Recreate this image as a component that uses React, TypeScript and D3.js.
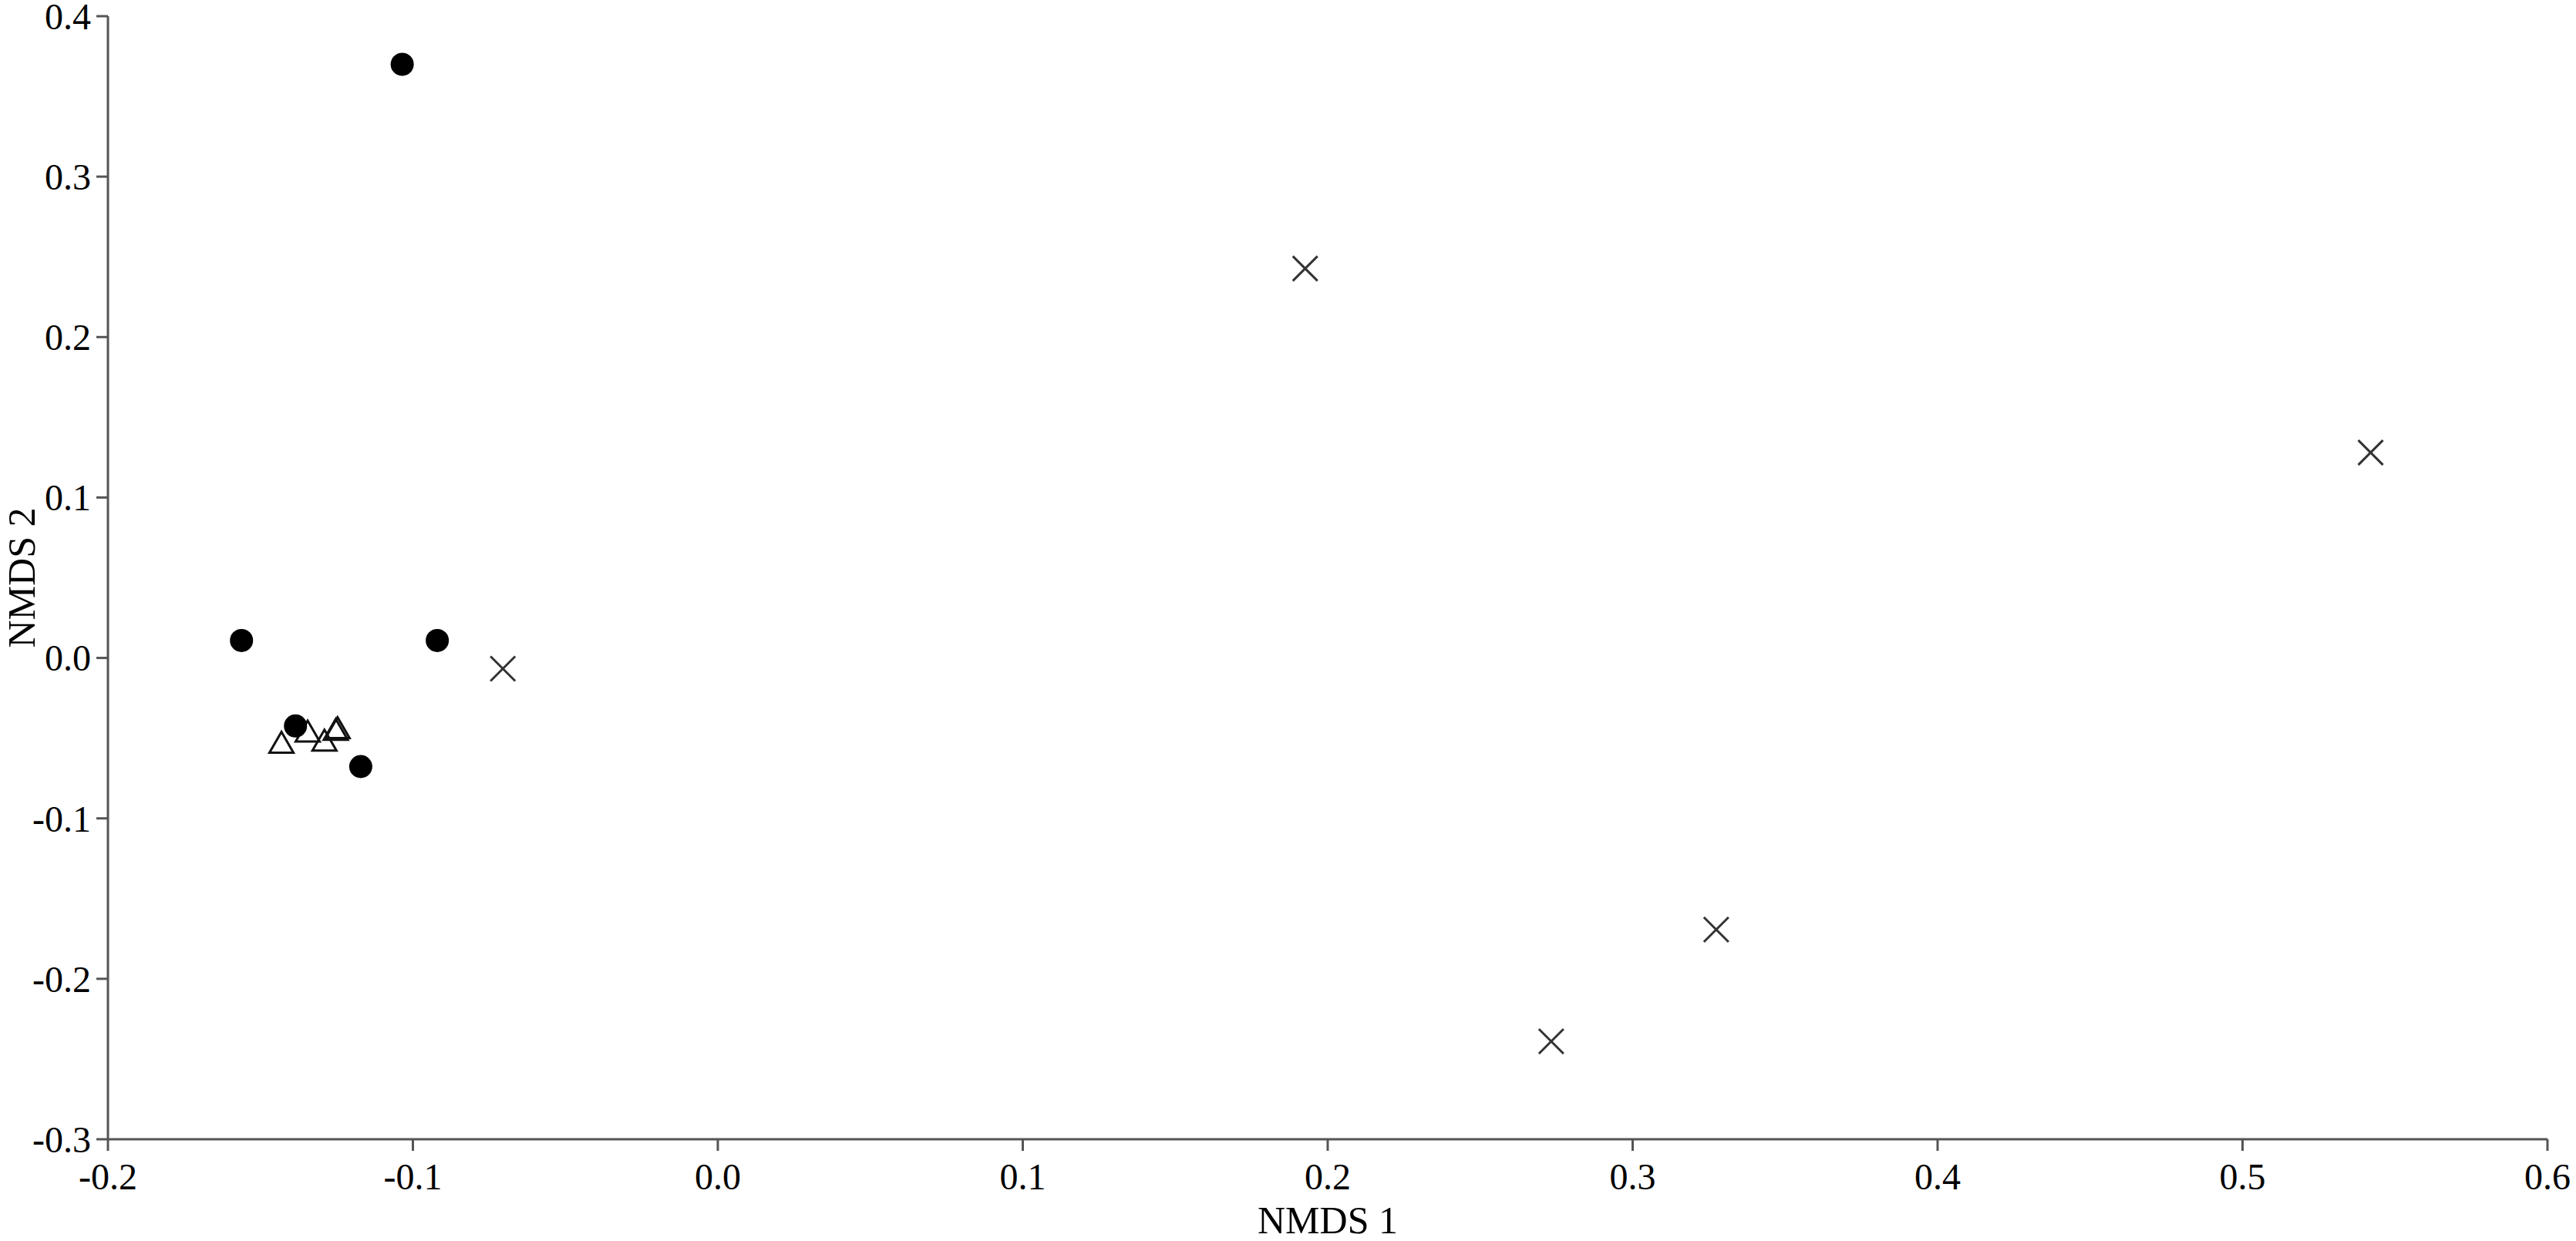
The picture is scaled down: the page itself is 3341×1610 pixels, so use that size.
import React from "react";
import * as d3 from "d3";

const W = 3341;
const H = 1610;

// Group 1: filled circles
const circleX = [-0.1035, -0.1562, -0.092, -0.1385, -0.1171];
const circleY = [0.370, 0.0109, 0.0109, -0.0424, -0.0677];

// Group 2: open triangles
const triX = [-0.1431, -0.1345, -0.129, -0.1247, -0.1253];
const triY = [-0.0533, -0.0463, -0.052, -0.0442, -0.0452];

// Group 3: crosses
const crossX = [-0.0705, 0.1926, 0.542, 0.3274, 0.2733];
const crossY = [-0.0067, 0.2427, 0.128, -0.1693, -0.239];

const xTicks = [-0.2, -0.1, 0.0, 0.1, 0.2, 0.3, 0.4, 0.5, 0.6];
const yTicks = [-0.3, -0.2, -0.1, 0.0, 0.1, 0.2, 0.3, 0.4];
const xTitle = "NMDS 1";
const yTitle = "NMDS 2";

const fmt = (v: number) => {
  const s = Math.abs(v).toFixed(1);
  return (v < -1e-9 ? "-" : "") + s;
};

export default function App() {
  const left = 140, right = 3304, top = 21, bottom = 1478;
  const x = d3.scaleLinear().domain([-0.2, 0.6]).range([left, right]);
  const y = d3.scaleLinear().domain([-0.3, 0.4]).range([bottom, top]);
  const axisColor = "#555";
  const font = "'Liberation Serif', 'Times New Roman', serif";
  const tickLen = 15;
  const triPath = d3.symbol().type(d3.symbolTriangle).size(420)();
  const cs = 16;

  return (
    <svg width={W} height={H} style={{ position: "absolute", left: 0, top: 0, background: "#fff" }}>
      <rect x={0} y={0} width={W} height={H} fill="#fff" />
      {/* axes */}
      <line x1={left} y1={top} x2={left} y2={bottom} stroke={axisColor} strokeWidth={3} />
      <line x1={left} y1={bottom} x2={right} y2={bottom} stroke={axisColor} strokeWidth={3} />
      {yTicks.map((t) => (
        <g key={"y" + t}>
          <line x1={left - tickLen} x2={left} y1={y(t)} y2={y(t)} stroke={axisColor} strokeWidth={3} />
          <text x={left - 22} y={y(t)} dy="0.35em" textAnchor="end" fontFamily={font} fontSize={48} fill="#000">
            {fmt(t)}
          </text>
        </g>
      ))}
      {xTicks.map((t) => (
        <g key={"x" + t}>
          <line x1={x(t)} x2={x(t)} y1={bottom} y2={bottom + tickLen} stroke={axisColor} strokeWidth={3} />
          <text x={x(t)} y={1543} textAnchor="middle" fontFamily={font} fontSize={48} fill="#000">
            {fmt(t)}
          </text>
        </g>
      ))}
      <text x={(left + right) / 2} y={1600} textAnchor="middle" fontFamily={font} fontSize={50} fill="#000">
        {xTitle}
      </text>
      <text
        transform={`translate(45, ${(top + bottom) / 2}) rotate(-90)`}
        textAnchor="middle"
        fontFamily={font}
        fontSize={50}
        fill="#000"
      >
        {yTitle}
      </text>
      {/* triangles */}
      {triX.map((v, i) => (
        <path
          key={"t" + i}
          d={triPath as string}
          transform={`translate(${x(v)}, ${y(triY[i]) + 3})`}
          fill="#fff"
          fillOpacity={0}
          stroke="#111"
          strokeWidth={3}
        />
      ))}
      {/* circles */}
      {circleX.map((v, i) => (
        <circle key={"c" + i} cx={x(v)} cy={y(circleY[i])} r={15} fill="#000" />
      ))}
      {/* crosses */}
      {crossX.map((v, i) => (
        <g key={"x" + i} stroke="#333" strokeWidth={3}>
          <line x1={x(v) - cs} y1={y(crossY[i]) - cs} x2={x(v) + cs} y2={y(crossY[i]) + cs} />
          <line x1={x(v) - cs} y1={y(crossY[i]) + cs} x2={x(v) + cs} y2={y(crossY[i]) - cs} />
        </g>
      ))}
    </svg>
  );
}
